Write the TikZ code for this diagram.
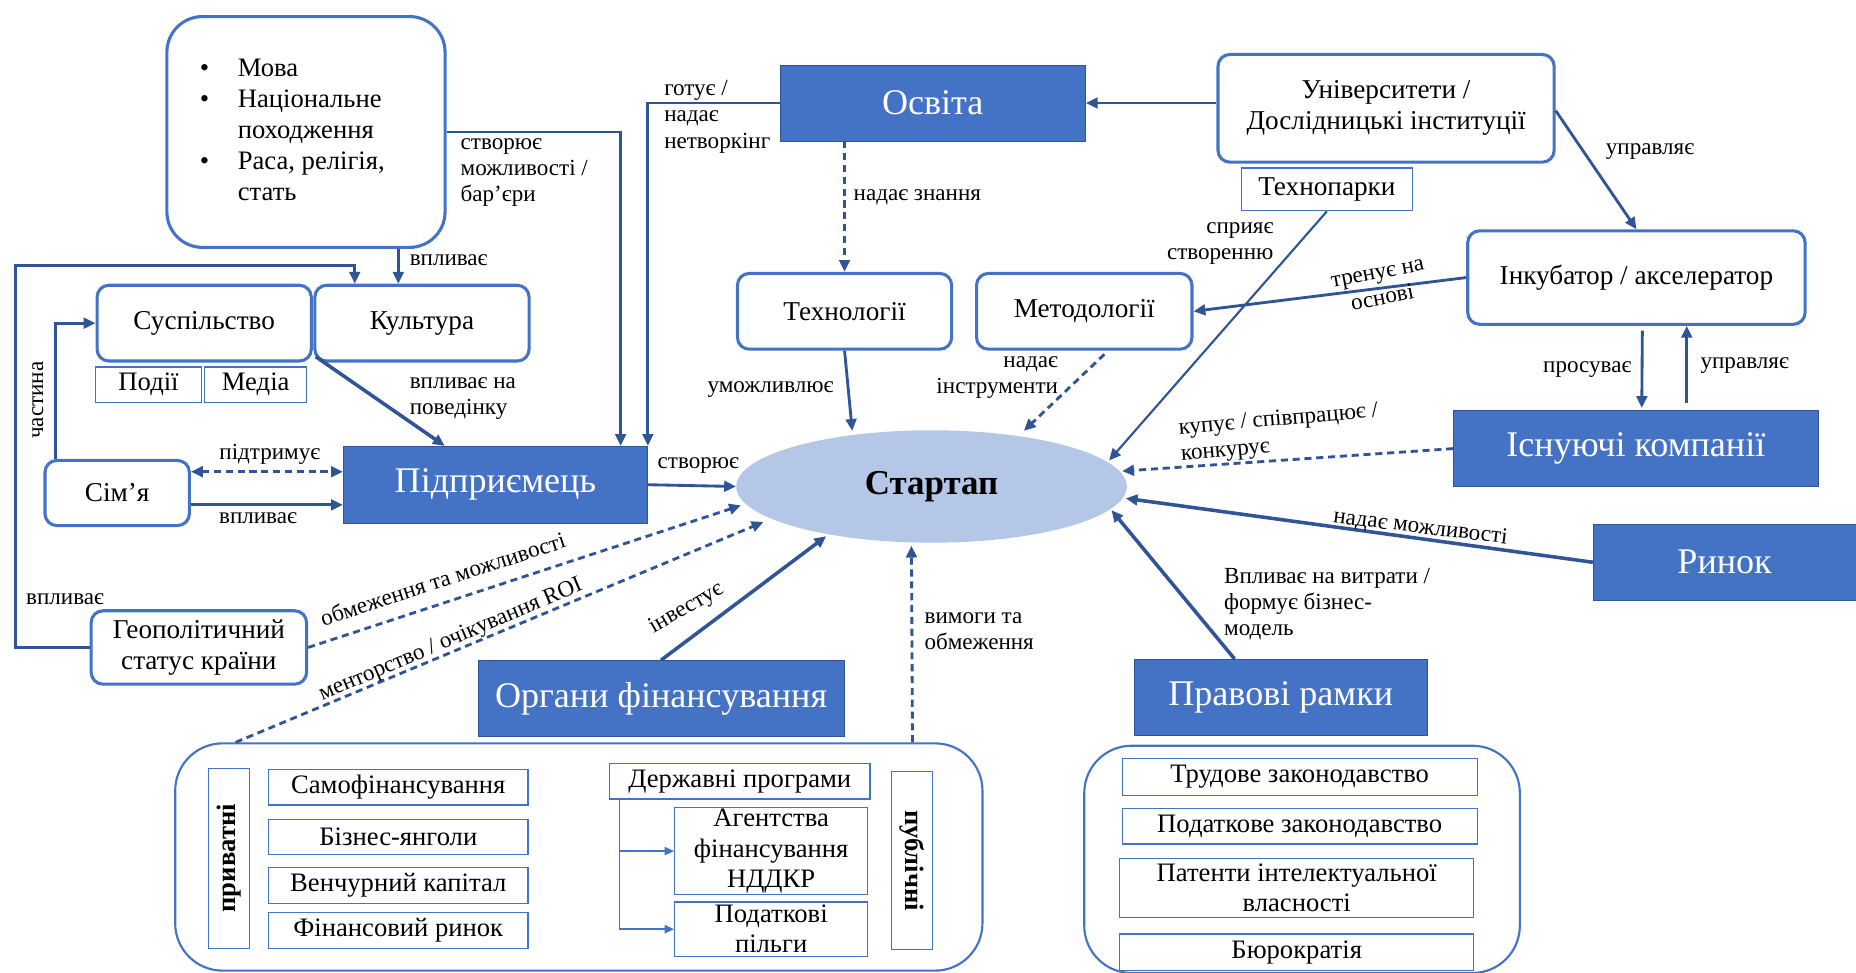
\documentclass[tikz,border=0pt]{standalone}
\usepackage{fontspec}
\setmainfont{Liberation Serif}
\usetikzlibrary{arrows.meta,calc,shapes.geometric}
\definecolor{bord}{HTML}{4472C4}
\definecolor{conn}{HTML}{2F5597}
\definecolor{fillb}{HTML}{4472C4}
\definecolor{ellc}{HTML}{B4C7E7}
\newcommand\fsz[2]{\fontsize{#1}{#2}\selectfont}
\begin{document}
\begin{tikzpicture}[x=1pt,y=-1pt,
 rbox/.style={draw=bord, line width=2.6pt, rounded corners=10pt, fill=white, align=center, inner sep=0pt, font=\fsz{23}{26}},
 tbox/.style={draw=bord, line width=1pt, fill=white, align=center, inner sep=0pt, font=\fsz{22.5}{25.5}},
 fbox/.style={draw=conn, line width=0.6pt, fill=fillb, text=white, inner sep=0pt, font=\fsz{30.5}{35}},
 lab/.style={font=\fsz{19.5}{22}, inner sep=1pt},
 cont/.style={draw=bord, line width=1.8pt, rounded corners=40pt},
 conline/.style={draw=conn, line width=2.4pt},
 arr/.style={conline, -{Triangle[length=10pt,width=9pt]}},
 darr/.style={conline, dash pattern=on 6pt off 4pt, -{Triangle[length=10pt,width=9pt]}},
 tarr/.style={draw=bord, line width=1.2pt, -{Triangle[length=8pt,width=7pt]}},
]
\useasboundingbox (0,0) rectangle (1568,822);

% containers
\node[cont, minimum width=682, minimum height=192] (fundc) at (489,724) {};
\node[cont, minimum width=368, minimum height=192] (legc) at (1100,726) {};

% nodes
\node[rbox, rounded corners=30pt, minimum width=235, minimum height=195] (bul) at (258.5,111.5)
 {\fsz{22.5}{26.2}\begin{tabular}{@{}p{32pt}@{}l@{}}\textbullet & Мова\\ \textbullet & Національне\\ & походження\\ \textbullet & Раса, релігія,\\ & стать\end{tabular}\hspace*{23pt}};
\node[rbox, minimum width=181, minimum height=64] (sus) at (172.5,273) {Суспільство};
\node[rbox, minimum width=181, minimum height=64] (kul) at (356.5,273) {Культура};
\node[tbox, minimum width=89, minimum height=30] (pod) at (125.5,325) {Події};
\node[tbox, minimum width=86, minimum height=30] (med) at (216,325) {Медіа};
\node[rbox, minimum width=122, minimum height=55] (sim) at (99,416.5) {Сім’я};
\node[fbox, minimum width=257, minimum height=65] (pid) at (418.5,409.5) {Підприємець};
\node[rbox, minimum width=182, minimum height=62] (geo) at (168,547) {Геополітичний\\статус країни};
\node[fbox, minimum width=258, minimum height=64] (osv) at (788,87) {Освіта};
\node[rbox, minimum width=181, minimum height=64] (tech) at (713.5,263) {Технології};
\node[rbox, minimum width=182, minimum height=64] (meth) at (916,263) {Методології};
\node[rbox, minimum width=284, minimum height=91] (uni) at (1171,91.5) {Університети /\\Дослідницькі інституції};
\node[tbox, minimum width=144, minimum height=36, font=\fsz{23}{26}] (tpark) at (1121,160) {Технопарки};
\node[rbox, minimum width=285, minimum height=79] (ink) at (1382.5,234.5) {Інкубатор / акселератор};
\node[fbox, minimum width=308, minimum height=64] (isn) at (1382,379) {Існуючі компанії};
\node[fbox, minimum width=222, minimum height=64] (rin) at (1457,475) {Ринок};
\node[ellipse, fill=ellc, minimum width=330, minimum height=95, inner sep=0pt, font=\fsz{29.5}{33}\bfseries] (start) at (787,411) {Стартап};
\node[fbox, minimum width=309, minimum height=64] (org) at (558.5,590) {Органи фінансування};
\node[fbox, minimum width=248, minimum height=64] (prav) at (1082,589) {Правові рамки};

% funding inner
\node[tbox, rotate=90, minimum width=152, minimum height=35, font=\fsz{22.5}{25}\bfseries] (priv) at (193.5,725) {приватні};
\node[tbox, minimum width=219, minimum height=30] (sam) at (336.5,665) {Самофінансування};
\node[tbox, minimum width=219, minimum height=30] (biz) at (336.5,707) {Бізнес-янголи};
\node[tbox, minimum width=219, minimum height=30] (ven) at (336.5,748) {Венчурний капітал};
\node[tbox, minimum width=219, minimum height=30] (fin) at (336.5,786) {Фінансовий ринок};
\node[tbox, minimum width=220, minimum height=30] (derzh) at (625,660) {Державні програми};
\node[tbox, minimum width=163, minimum height=74] (agen) at (651.5,719) {Агентства\\фінансування\\НДДКР};
\node[tbox, minimum width=163, minimum height=46] (podat) at (651.5,785) {Податкові\\пільги};
\node[tbox, rotate=-90, minimum width=150, minimum height=35, font=\fsz{22.5}{25}\bfseries] (pub) at (770.5,727) {публічні};
% legal inner
\node[tbox, minimum width=300, minimum height=31] (trud) at (1098,656.5) {Трудове законодавство};
\node[tbox, minimum width=300, minimum height=30] (podz) at (1098,698) {Податкове законодавство};
\node[tbox, minimum width=299, minimum height=50] (pat) at (1095.5,750) {Патенти інтелектуальної\\власності};
\node[tbox, minimum width=299, minimum height=31] (bur) at (1095.5,804.5) {Бюрократія};

% connectors
\draw[arr] (bul.east) -| ($(pid.north east)+(-23,0)$);
\coordinate (k1) at ($(kul.north)+(-20,0)$);
\draw[arr] (k1 |- bul.south) -- (k1);
\draw[arr] (osv.west) -| (pid.north east);
\draw[arr, line width=3pt] ($(kul.south west)+(2,-5)$) -- ($(pid.north west)+(86,0)$);
\draw[arr] (geo.west) -| (13,224) -| ($(kul.north west)+(35,0)$);
\draw[arr] ($(sim.north west)+(10,0)$) |- (sus.west);
\coordinate (s1) at ($(sim.east)+(0,-18)$);
\draw[darr, {Triangle[length=10pt,width=9pt]}-{Triangle[length=10pt,width=9pt]}] (s1) -- (s1 -| pid.west);
\coordinate (s2) at ($(sim.east)+(0,10)$);
\draw[arr] (s2) -- (s2 -| pid.west);
\draw[arr] (pid.east) -- (start.west);
\draw[darr] (geo.east) -- ($(start.center)+(-161,16)$);
\draw[darr] ($(fundc.north west)+(52,0)$) -- ($(start.center)+(-142,30)$);
\draw[arr, line width=3pt] (org.north) -- ($(start.center)+(-89,42)$);
\draw[darr] ($(fundc.north east)+(-60,0)$) -- ($(start.center)+(-17,50)$);
\draw[darr] (tech.north |- osv.south) -- (tech.north);
\draw[arr] (tech.south) -- ($(start.center)+(-67,-47)$);
\draw[darr] ($(meth.south)+(17,3)$) -- ($(start.center)+(78,-47)$);
\draw[arr] (uni.west |- osv.east) -- (osv.east);
\draw[arr, line width=1.8pt] (tpark.south) -- ($(start.center)+(150,-22)$);
\draw[arr] (ink.west) -- (meth.east);
\draw[arr] ($(uni.east)+(0,2)$) -- (ink.north);
\draw[arr] ($(ink.south)+(5,4)$) -- ($(isn.north)+(5,-2)$);
\coordinate (u1) at ($(isn.north)+(43,-6)$);
\draw[arr] (u1) -- (u1 |- ink.south);
\draw[darr] (isn.west) -- ($(start.center)+(161,-13)$);
\draw[arr, line width=3pt] (rin.west) -- ($(start.center)+(164,10)$);
\draw[arr, line width=3pt] ($(prav.north)+(-39,0)$) -- ($(start.center)+(152,20)$);
\draw[tarr] ($(derzh.south west)+(9,0)$) |- (agen.west);
\draw[tarr] ($(derzh.south west)+(9,0)$) |- (podat.west);

% labels
\node[lab, anchor=north west, align=left] at (388,116) {створює\\можливості /\\бар’єри};
\node[lab, anchor=west] at (345,220) {впливає};
\node[lab, anchor=north west, align=left] at (560,67) {готує /\\надає\\нетворкінг};
\node[lab, anchor=west, align=left] at (345,337) {впливає на\\поведінку};
\node[lab] at (55,506) {впливає};
\node[lab, rotate=90] at (32,338) {частина};
\node[lab] at (228,384) {підтримує};
\node[lab] at (218,438) {впливає};
\node[lab] at (590,393) {створює};
\node[lab, rotate=18] at (374,489) {обмеження та можливості};
\node[lab, rotate=23] at (381,541) {менторство / очікування ROI};
\node[lab, rotate=30] at (580,514) {інвестує};
\node[lab, anchor=west, align=left] at (780,533) {вимоги та\\обмеження};
\node[lab, anchor=west] at (720,167) {надає знання};
\node[lab] at (651,329) {уможливлює};
\node[lab, anchor=east, align=right] at (895,319) {надає\\інструменти};
\node[lab, anchor=east, align=right] at (1077,206) {сприяє\\створенню};
\node[lab, rotate=11, align=center] at (1166,242) {тренує на\\основі};
\node[lab] at (1394,128) {управляє};
\node[lab] at (1341,312) {просуває};
\node[lab] at (1474,309) {управляє};
\node[lab, rotate=5, align=left] at (1081,366) {купує / співпрацює /\\конкурує};
\node[lab, rotate=-7] at (1200,446) {надає можливості};
\node[lab, anchor=north west, align=left] at (1033,479) {Впливає на витрати /\\формує бізнес-\\модель};
\end{tikzpicture}
\end{document}
